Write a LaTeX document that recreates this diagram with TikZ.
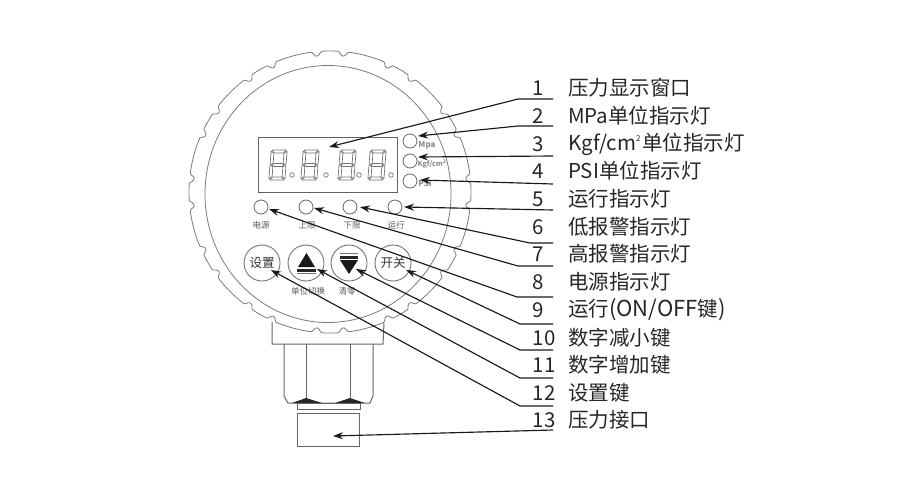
\documentclass[tikz,border=0pt]{standalone}
\usepackage{fontspec}
\setmainfont{Noto Sans CJK SC}
\usetikzlibrary{arrows.meta}
\tikzset{
  body/.style={draw=black!52,line width=0.8pt},
  bodydark/.style={draw=black!60,line width=1pt},
  seg/.style={draw=black!55,fill=white,line width=0.7pt,line join=round},
  leader/.style={draw=black!90,line width=1.15pt,-{Stealth[length=10pt,width=7pt]}},
  lamp/.style={circle,draw=black!60,line width=0.8pt,minimum size=14pt,inner sep=0pt},
  keyb/.style={circle,draw=black!55,line width=0.9pt,minimum size=36pt,inner sep=0pt},
  tiny/.style={text=black!65,font=\fontsize{8.5}{10}\selectfont,inner sep=0pt},
  unitl/.style={text=black!45,font=\fontsize{8}{9}\bfseries\selectfont,inner sep=0pt},
  num/.style={text=black!85,font=\fontsize{20.5}{24}\selectfont,inner sep=0pt,anchor=center},
  lab/.style={text=black!85,font=\fontsize{20.5}{24}\selectfont,inner sep=0pt,anchor=west},
  dotc/.style={circle,draw=black!55,line width=0.7pt,minimum size=4.5pt,inner sep=0pt},
}
\newcommand{\segdigit}[2]{%
  \begin{scope}[shift={(#1,#2)},xslant=0.08]
    \draw[seg] (1,-15)--(15,-15)--(12.5,-12)--(3.5,-12)--cycle;
    \draw[seg] (1,15)--(15,15)--(12.5,12)--(3.5,12)--cycle;
    \draw[seg] (2,0)--(4,-1.5)--(12,-1.5)--(14,0)--(12,1.5)--(4,1.5)--cycle;
    \draw[seg] (0,-14)--(3,-11.5)--(3,-2)--(1,-0.5)--(0,-1)--cycle;
    \draw[seg] (16,-14)--(13,-11.5)--(13,-2)--(15,-0.5)--(16,-1)--cycle;
    \draw[seg] (0,14)--(3,11.5)--(3,2)--(1,0.5)--(0,1)--cycle;
    \draw[seg] (16,14)--(13,11.5)--(13,2)--(15,0.5)--(16,1)--cycle;
  \end{scope}}
\newcommand{\smallsq}{\raisebox{8.5pt}{\fontsize{8}{9}\selectfont 2}\kern1.5pt}
\begin{document}
\begin{tikzpicture}[x=1pt,y=-1pt,
  declare function={dd(\t)=abs(mod(\t+15,30)-15);
    rr(\t)=141-4.5*max(0,1-((dd(\t)-5.5)/1.8)^2);}]
\useasboundingbox (0,0) rectangle (921,490);
% gauge body
\begin{scope}[shift={(330,192)}]
  \draw[body] plot[samples=721,domain=0:360] (\x:{rr(\x)+0.001}) -- cycle;
\end{scope}
\draw[body] (328,194) ellipse [x radius=123,y radius=128.5];
% neck and hex
\draw[bodydark] (272,322)--(272,344)--(383,344)--(384,323);
\draw[bodydark] (284,344)--(284,396)--(288,403)--(370,403)--(373,396)--(373,344);
\draw[bodydark] (306,344)--(306,398);
\draw[bodydark] (350,344)--(350,398);
\fill[black!85] (292,403)--(306,398)--(322,403)--cycle;
\fill[black!85] (335,403)--(350,398)--(365,403)--cycle;
\draw[bodydark] (297,403) rectangle (360,409);
\node[draw=black!60,line width=1pt,minimum width=62pt,minimum height=33pt,inner sep=0pt] (port) at (328,429.5) {};
% display
\node[draw=black!62,line width=0.9pt,minimum width=139pt,minimum height=55pt,inner sep=0pt] (disp) at (327.5,164.5) {};
\segdigit{270}{165}
\segdigit{302}{165}
\segdigit{339}{165}
\segdigit{369}{165}
\node[dotc] (d1) at (292,175) {};
\node[dotc] (d2) at (326,175) {};
\node[dotc] (d3) at (359,175) {};
\node[dotc] (d4) at (391,175) {};
% unit lamps
\node[lamp] (mpa) at (410,141) {};
\node[lamp] (kgf) at (410,161) {};
\node[lamp] (psi) at (410,181) {};
\node[unitl] (mpat) at (427,145) {Mpa};
\node[unitl,font=\fontsize{7}{9}\bfseries\selectfont] (kgft) at (432,164) {Kgf/cm\textsuperscript{2}};
\node[unitl] (psit) at (425,184) {PSI};
% status lamps
\node[lamp] (pow) at (261,207) {};
\node[lamp] (high) at (306,207) {};
\node[lamp] (low) at (350,207) {};
\node[lamp] (run) at (395,207) {};
\node[tiny] (powt) at (261,225) {电源};
\node[tiny] (hight) at (307,225) {上限};
\node[tiny] (lowt) at (352,225) {下限};
\node[tiny] (runt) at (396,225) {运行};
% keys
\node[keyb,text=black!80,font=\fontsize{12.5}{14}\selectfont] (kset) at (262,263) {设置};
\node[keyb] (kup) at (306,263) {};
\node[keyb] (kdn) at (349,263) {};
\node[keyb,text=black!80,font=\fontsize{12.5}{14}\selectfont] (kon) at (393,263) {开关};
\fill[black!90] (306.5,253)--(315,267)--(298,267)--cycle;
\fill[black!85] (297,269) rectangle (316,271.5);
\fill[black!55] (297,273) rectangle (316,274.2);
\fill[black!90] (340,260)--(358,260)--(349,274)--cycle;
\fill[black!85] (340,256) rectangle (358,258.5);
\fill[black!55] (340,253) rectangle (358,254.2);
\node[tiny] (kupt) at (308,291) {单位切换};
\node[tiny] (kdnt) at (347,291) {清零};
% labels
\node[num] (n1) at (538,88) {1};      \node[lab] (l1) at (568,88) {压力显示窗口};
\node[num] (n2) at (538,116) {2};     \node[lab] (l2) at (568,116) {MPa单位指示灯};
\node[num] (n3) at (538,144) {3};     \node[lab] (l3) at (568,144) {Kgf/cm\smallsq 单位指示灯};
\node[num] (n4) at (538,171) {4};     \node[lab] (l4) at (568,171) {PSI单位指示灯};
\node[num] (n5) at (538,199) {5};     \node[lab] (l5) at (568,199) {运行指示灯};
\node[num] (n6) at (538,227) {6};     \node[lab] (l6) at (568,227) {低报警指示灯};
\node[num] (n7) at (538,254) {7};     \node[lab] (l7) at (568,254) {高报警指示灯};
\node[num] (n8) at (538,282) {8};     \node[lab] (l8) at (568,282) {电源指示灯};
\node[num] (n9) at (538,310) {9};     \node[lab] (l9) at (568,310) {运行{\fontsize{22}{24}\selectfont (ON/OFF}键{\fontsize{22}{24}\selectfont )}};
\node[num] (n10) at (544,338) {10};   \node[lab] (l10) at (568,338) {数字减小键};
\node[num] (n11) at (544,365) {11};   \node[lab] (l11) at (568,365) {数字增加键};
\node[num] (n12) at (544,393) {12};   \node[lab] (l12) at (568,393) {设置键};
\node[num] (n13) at (544,420) {13};   \node[lab] (l13) at (568,420) {压力接口};
% leader points
\coordinate (e1) at (553,99);   \coordinate (b1) at (518,99);   \coordinate (t1) at (329,147);
\coordinate (e2) at (553,126);  \coordinate (b2) at (518,126);  \coordinate (t2) at (418,136);
\coordinate (e3) at (553,156);  \coordinate (t3) at (418,157);
\coordinate (e4) at (553,184);  \coordinate (t4) at (420,180);
\coordinate (e5) at (553,210);  \coordinate (t5) at (404,207);
\coordinate (e6) at (553,243);  \coordinate (b6) at (530,243);  \coordinate (t6) at (360,207);
\coordinate (e7) at (553,266);  \coordinate (b7) at (518,266);  \coordinate (t7) at (314,208);
\coordinate (e8) at (553,297);  \coordinate (b8) at (517,297);  \coordinate (t8) at (269,209);
\coordinate (e9) at (553,324);  \coordinate (b9) at (520,324);  \coordinate (t9) at (406,270);
\coordinate (e10) at (553,350); \coordinate (b10) at (520,350); \coordinate (t10) at (356,269);
\coordinate (e11) at (553,378); \coordinate (b11) at (520,378); \coordinate (t11) at (317,269);
\coordinate (e12) at (553,406); \coordinate (b12) at (520,406); \coordinate (t12) at (271,270);
\coordinate (e13) at (553,430); \coordinate (t13) at (333,436);
\foreach \i in {1,2,6,7,8,9,10,11,12}{\draw[leader] (e\i)--(b\i)--(t\i);}
\foreach \i in {3,4,5,13}{\draw[leader] (e\i)--(t\i);}
\end{tikzpicture}
\end{document}
